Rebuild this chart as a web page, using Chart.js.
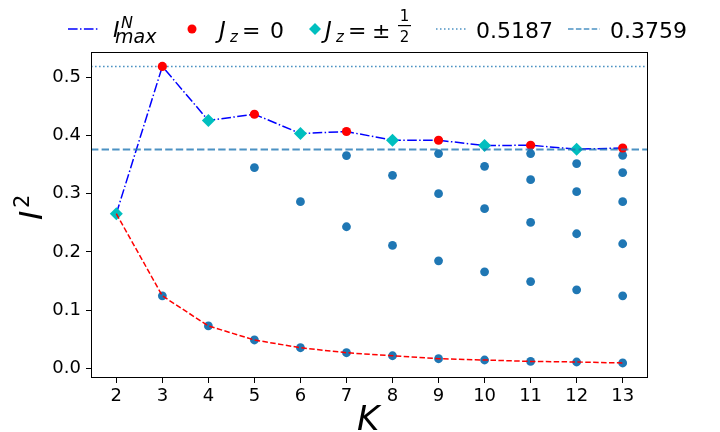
<!DOCTYPE html>
<html>
<head>
<meta charset="utf-8">
<script src="https://cdn.jsdelivr.net/npm/chart.js@4.4.1/dist/chart.umd.min.js"></script>
<style>
html, body { margin: 0; padding: 0; background: #fff; }
#wrap { width: 720px; height: 432px; }
</style>
</head>
<body>
<div id="wrap"><canvas id="chart" width="720" height="432"></canvas></div>
<script>
// K values on the x axis
var kValues = [2, 3, 4, 5, 6, 7, 8, 9, 10, 11, 12, 13];
// largest I^2 for each K (blue dash-dot line)
var iMax = [0.2657, 0.5187, 0.4258, 0.4366, 0.4034, 0.4069, 0.3919, 0.3919, 0.3828, 0.3833, 0.3765, 0.3786];
// smallest I^2 for each K (red dashed line)
var iMin = [0.2657, 0.1246, 0.0729, 0.0488, 0.0355, 0.0269, 0.0217, 0.0166, 0.0144, 0.0120, 0.0110, 0.0093];
// the other levels in between
var levelK = [5, 6, 7, 7, 8, 8, 9, 9, 9, 10, 10, 10, 11, 11, 11, 11, 12, 12, 12, 12, 13, 13, 13, 13, 13];
var levelI = [0.3449, 0.2864, 0.3655, 0.2433, 0.3316, 0.2112, 0.3690, 0.3001, 0.1848, 0.3471, 0.2743, 0.1659,
              0.3690, 0.3242, 0.2507, 0.1492, 0.3518, 0.3036, 0.2313, 0.1349, 0.3661, 0.3363, 0.2864, 0.2141, 0.1246];
// horizontal reference lines
var refUpper = 0.5187;
var refLower = 0.3759;
var yTicks = [0.0, 0.1, 0.2, 0.3, 0.4, 0.5];
var xMin = 1.45, xMax = 13.55;
var yMin = -0.0165, yMax = 0.5435;

var FONT = '"DejaVu Sans", "Liberation Sans", sans-serif';
var TAB_BLUE = '#1f77b4';
var REF_BLUE = 'rgba(31,119,180,0.8)';

function pts(xs, ys) {
	var out = [];
	for (var i = 0; i < xs.length; i++) {
		out.push({ x: xs[i], y: ys[i] });
	}
	return out;
}

// every level as a blue dot: minima from K=3 on, plus the inner levels
var dotK = kValues.slice(1).concat(levelK);
var dotI = iMin.slice(1).concat(levelI);

// odd K -> J_z = 0 (red), even K -> J_z = 1/2 (cyan)
var oddK = [], oddI = [], evenK = [], evenI = [];
for (var i = 0; i < kValues.length; i++) {
	if (kValues[i] % 2) { oddK.push(kValues[i]); oddI.push(iMax[i]); }
	else { evenK.push(kValues[i]); evenI.push(iMax[i]); }
}

function drawText(ctx, t, x, y, size, italic) {
	ctx.font = (italic ? 'italic ' : '') + size + 'px ' + FONT;
	ctx.fillText(t, x, y);
}

function drawDiamond(ctx, x, y, r, color) {
	ctx.beginPath();
	ctx.moveTo(x, y - r);
	ctx.lineTo(x + r, y);
	ctx.lineTo(x, y + r);
	ctx.lineTo(x - r, y);
	ctx.closePath();
	ctx.fillStyle = color;
	ctx.fill();
}

function drawSample(ctx, x0, x1, y, color, width, dash) {
	ctx.beginPath();
	ctx.setLineDash(dash);
	ctx.strokeStyle = color;
	ctx.lineWidth = width;
	ctx.moveTo(x0, y);
	ctx.lineTo(x1, y);
	ctx.stroke();
	ctx.setLineDash([]);
}

var decorations = {
	id: 'decorations',
	afterDraw: function(chart) {
		var ctx = chart.ctx;
		var a = chart.chartArea;
		ctx.save();

		// axes frame
		ctx.strokeStyle = '#000';
		ctx.lineWidth = 1;
		ctx.strokeRect(Math.round(a.left) + 0.5, Math.round(a.top) + 0.5,
			Math.round(a.right - a.left) - 1, Math.round(a.bottom - a.top) - 1);

		ctx.fillStyle = '#000';
		ctx.textBaseline = 'alphabetic';
		ctx.textAlign = 'left';

		// x axis title
		drawText(ctx, 'K', 357, 430, 34, true);

		// y axis title
		ctx.save();
		ctx.translate(42, 220);
		ctx.rotate(-Math.PI / 2);
		drawText(ctx, 'I', 0, 0, 32, true);
		drawText(ctx, '2', 12, -13, 21, false);
		ctx.restore();

		// legend
		var ly = 29, base = 37.5;
		drawSample(ctx, 68, 98, ly, '#0000ff', 1.5, [9.6, 2.4, 1.5, 2.4]);
		ctx.fillStyle = '#000';
		drawText(ctx, 'I', 113, 36.5, 22, true);
		drawText(ctx, 'N', 121, 27.5, 16, true);
		drawText(ctx, 'max', 115, 43, 19, true);

		ctx.beginPath();
		ctx.arc(192, ly, 4.5, 0, Math.PI * 2);
		ctx.fillStyle = '#ff0000';
		ctx.fill();
		ctx.fillStyle = '#000';
		drawText(ctx, 'J', 219, base, 23, true);
		drawText(ctx, 'z', 230, 41.5, 15, true);
		drawText(ctx, '=', 242, base, 22, false);
		drawText(ctx, '0', 270, base, 22, false);

		drawDiamond(ctx, 315, ly, 6, '#00bfbf');
		ctx.fillStyle = '#000';
		drawText(ctx, 'J', 325, base, 23, true);
		drawText(ctx, 'z', 336, 41.5, 15, true);
		drawText(ctx, '=', 348, base, 22, false);
		drawText(ctx, '\u00b1', 372, base, 22, false);
		ctx.textAlign = 'center';
		drawText(ctx, '1', 404.5, 21, 15, false);
		drawText(ctx, '2', 404.5, 42, 15, false);
		ctx.textAlign = 'left';
		ctx.fillRect(398, 25, 13, 1.2);

		drawSample(ctx, 436, 467, ly, REF_BLUE, 1.5, [1.5, 2.5]);
		ctx.fillStyle = '#000';
		drawText(ctx, '0.5187', 476, base, 22, false);

		drawSample(ctx, 568, 600, ly, REF_BLUE, 1.5, [5.5, 2.4]);
		ctx.fillStyle = '#000';
		drawText(ctx, '0.3759', 610, base, 22, false);

		ctx.restore();
	}
};

var ctx = document.getElementById('chart').getContext('2d');
new Chart(ctx, {
	type: 'scatter',
	data: {
		datasets: [
			{
				label: '0.3759',
				data: pts([xMin, xMax], [refLower, refLower]),
				showLine: true,
				borderColor: REF_BLUE,
				borderWidth: 2,
				borderDash: [7.4, 3.2],
				pointRadius: 0,
				order: 1
			},
			{
				label: 'min',
				data: pts(kValues, iMin),
				showLine: true,
				borderColor: '#ff0000',
				borderWidth: 1.5,
				borderDash: [5.5, 2.4],
				pointRadius: 0,
				order: 2
			},
			{
				label: 'Jz = 0',
				data: pts(oddK, oddI),
				backgroundColor: '#ff0000',
				borderWidth: 0,
				pointRadius: 4.6,
				order: 3
			},
			{
				label: 'Jz = 1/2',
				data: pts(evenK, evenI),
				backgroundColor: '#00bfbf',
				borderWidth: 0,
				pointStyle: 'rectRot',
				pointRadius: 6.5,
				order: 4
			},
			{
				label: 'I max',
				data: pts(kValues, iMax),
				showLine: true,
				borderColor: '#0000ff',
				borderWidth: 1.5,
				borderDash: [9.6, 2.4, 1.5, 2.4],
				pointRadius: 0,
				order: 5
			},
			{
				label: 'levels',
				data: pts(dotK, dotI),
				backgroundColor: TAB_BLUE,
				borderWidth: 0,
				pointRadius: 4.4,
				order: 6
			},
			{
				label: '0.5187',
				data: pts([xMin, xMax], [refUpper, refUpper]),
				showLine: true,
				borderColor: REF_BLUE,
				borderWidth: 1.6,
				borderDash: [1.6, 2.4],
				pointRadius: 0,
				order: 7
			}
		]
	},
	options: {
		responsive: false,
		animation: false,
		events: [],
		layout: { padding: { top: 52, right: 72, left: 0, bottom: 0 } },
		plugins: {
			legend: { display: false },
			tooltip: { enabled: false }
		},
		scales: {
			x: {
				type: 'linear',
				min: xMin,
				max: xMax,
				afterFit: function(s) { s.height = 54; },
				afterBuildTicks: function(s) {
					s.ticks = kValues.map(function(v) { return { value: v }; });
				},
				grid: { drawOnChartArea: false, color: '#000', tickLength: 5, tickWidth: 1 },
				border: { display: false },
				ticks: {
					color: '#000',
					font: { family: FONT, size: 18 },
					padding: 3,
					autoSkip: false,
					maxRotation: 0,
					callback: function(v) { return String(v); }
				}
			},
			y: {
				type: 'linear',
				min: yMin,
				max: yMax,
				afterFit: function(s) { s.width = 91; },
				afterBuildTicks: function(s) {
					s.ticks = yTicks.map(function(v) { return { value: v }; });
				},
				grid: { drawOnChartArea: false, color: '#000', tickLength: 5, tickWidth: 1 },
				border: { display: false },
				ticks: {
					color: '#000',
					font: { family: FONT, size: 18 },
					padding: 5,
					callback: function(v) { return v.toFixed(1); }
				}
			}
		}
	},
	plugins: [decorations]
});
</script>
</body>
</html>
